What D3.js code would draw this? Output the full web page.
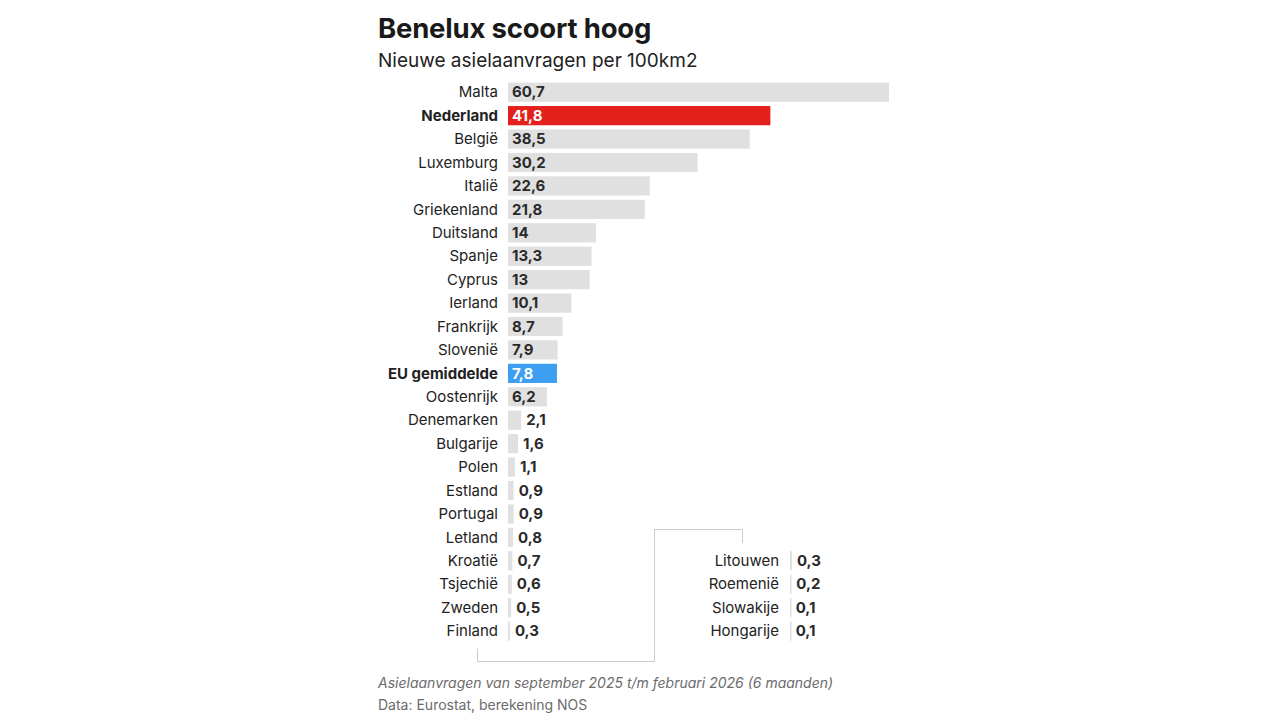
<!DOCTYPE html>
<html><head><meta charset="utf-8">
<script src="https://cdn.jsdelivr.net/npm/d3@7"></script>
<style>
body{margin:0;background:#fff;}
svg text{font-family:Inter,"Noto Sans",sans-serif;}
</style></head><body>
<svg id="c" width="1280" height="720"></svg>
<script>
const countries = ["Malta","Nederland","België","Luxemburg","Italië","Griekenland","Duitsland","Spanje","Cyprus","Ierland","Frankrijk","Slovenië","EU gemiddelde","Oostenrijk","Denemarken","Bulgarije","Polen","Estland","Portugal","Letland","Kroatië","Tsjechië","Zweden","Finland"];
const values = [60.7,41.8,38.5,30.2,22.6,21.8,14,13.3,13,10.1,8.7,7.9,7.8,6.2,2.1,1.6,1.1,0.9,0.9,0.8,0.7,0.6,0.5,0.3];
const tailCountries = ["Litouwen","Roemenië","Slowakije","Hongarije"];
const tailValues = [0.3,0.2,0.1,0.1];
const highlight = {"Nederland":"#e3201b","EU gemiddelde":"#3d9ef2"};

const svg = d3.select("#c");
const fmt = v => String(v).replace(".", ",");

svg.append("text").attr("x",378).attr("y",38).attr("font-size",27.5).attr("font-weight",700).attr("letter-spacing","-0.2").attr("fill","#1a1a1a").text("Benelux scoort hoog");
svg.append("text").attr("x",378).attr("y",67).attr("font-size",19).attr("fill","#222").text("Nieuwe asielaanvragen per 100km2");

const y = d3.scaleBand().domain(countries).range([80.5, 80.5+23.43*24]).paddingInner(0.18).paddingOuter(0.09);

function drawRows(g, names, vals, yPos, x0, labelX) {
  const xs = d3.scaleLinear().domain([0,60.7]).range([x0, x0 + (889-508)]);
  names.forEach((n,i) => {
    const v = vals[i];
    const yc = yPos(i);
    const h = y.bandwidth();
    const col = highlight[n] || "#e0e0e0";
    const bold = !!highlight[n];
    g.append("rect").attr("x",xs(0)).attr("y",yc - h/2).attr("width",Math.max(xs(v)-xs(0),1.5)).attr("height",h).attr("fill",col);
    g.append("text").attr("x",labelX).attr("y",yc).attr("dy","0.35em").attr("text-anchor","end")
      .attr("font-size",15).attr("font-weight",bold?700:400).attr("fill","#222").text(n);
    const w = xs(v)-xs(0);
    const inside = w > 34;
    g.append("text").attr("x", inside ? xs(0)+4 : xs(v)+5).attr("y",yc).attr("dy","0.35em")
      .attr("font-size",15).attr("font-weight",700).attr("fill", highlight[n] ? "#fff" : "#2a2a2a").text(fmt(v));
  });
}

const g = svg.append("g");
drawRows(g, countries, values, i => y(countries[i]) + y.bandwidth()/2, 508, 498);
drawRows(g, tailCountries, tailValues, i => y(countries[20+i]) + y.bandwidth()/2, 790, 779);

// bracket connector
const yb = y(countries[23]) + y.bandwidth() + 8;
svg.append("path")
  .attr("d", `M477.5,${yb}V661.5H654.5V529.5H742.5V543`)
  .attr("fill","none").attr("stroke","#cccccc").attr("stroke-width",1);

svg.append("text").attr("x",378).attr("y",688).attr("font-size",14).attr("font-style","italic").attr("fill","#6b6b6b").text("Asielaanvragen van september 2025 t/m februari 2026 (6 maanden)");
svg.append("text").attr("x",378).attr("y",710).attr("font-size",14).attr("fill","#6b6b6b").text("Data: Eurostat, berekening NOS");
</script>
</body></html>
